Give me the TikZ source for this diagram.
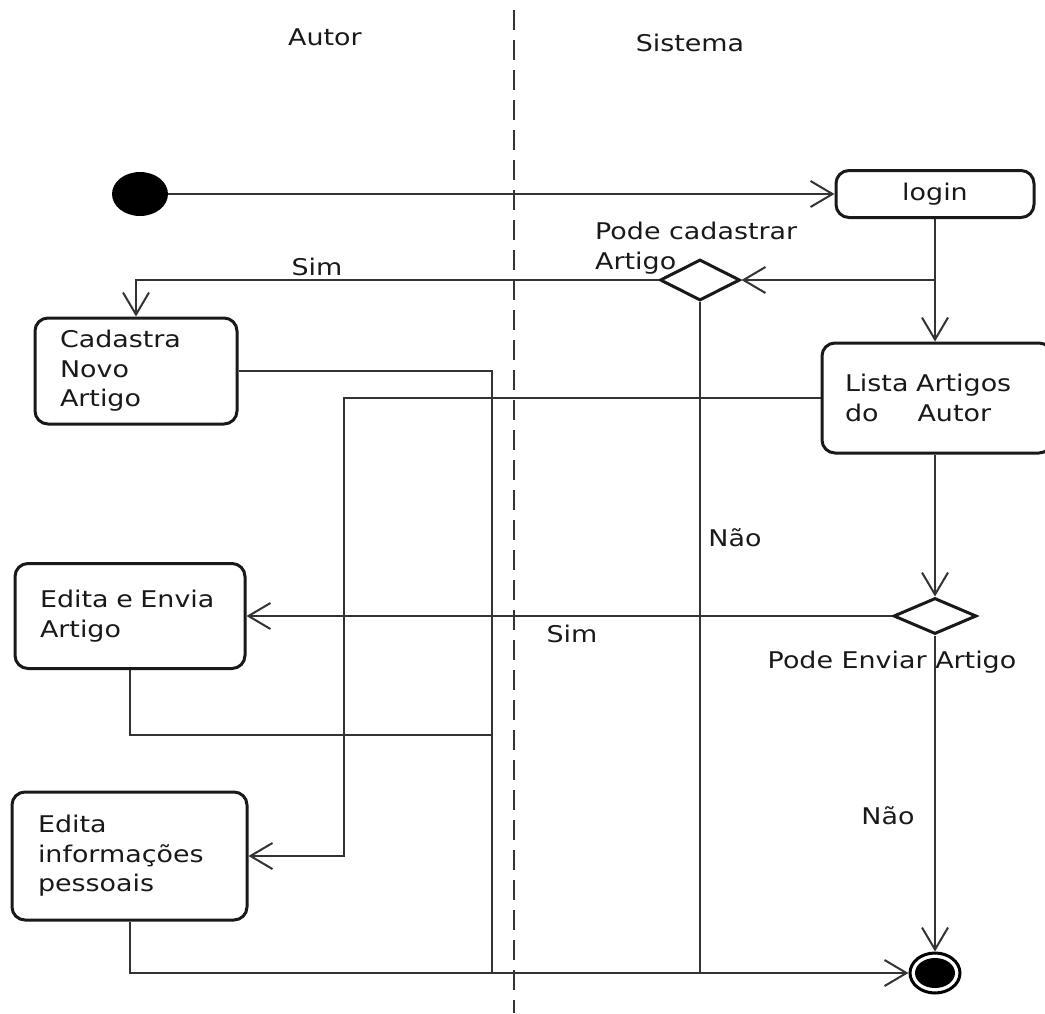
\documentclass[tikz,border=0pt]{standalone}
\usepackage{fontspec}
\setmainfont{DejaVu Sans}[FakeStretch=1.17]
\usetikzlibrary{shapes.geometric,arrows.meta}

\begin{document}
\begin{tikzpicture}[x=1pt,y=-1pt,
  every node/.style={font=\fontsize{23}{29.5}\selectfont, text=black!90},
  act/.style={draw=black!90, line width=3pt, rounded corners=13pt, align=left,
              inner ysep=0pt, fill=white},
  conn/.style={line width=2pt, draw=black!80},
  arr/.style={conn, -{Straight Barb[length=22pt,width=26pt,line width=2pt]}},
  dec/.style={diamond, draw=black!90, line width=3pt, inner sep=0pt, fill=white},
  lbl/.style={inner sep=0pt}]

\useasboundingbox (0,0) rectangle (1045,1013);
\clip (0,0) rectangle (1045,1013);

% swimlane separator and lane titles
\draw[line width=2.5pt, draw=black!80, dash pattern=on 20pt off 10pt] (514,10) -- (514,1013);
\node[lbl] (autor) at (325,37) {Autor};
\node[lbl] (sistema) at (690,43) {Sistema};

% initial and final states
\node[ellipse, fill=black, minimum width=56pt, minimum height=44pt, inner sep=0pt] (start) at (140,194) {};
\node[ellipse, draw=black, line width=3pt, minimum width=50pt, minimum height=40pt, inner sep=0pt, fill=white] (final) at (935,973) {};
\node[ellipse, fill=black, minimum width=40pt, minimum height=30pt, inner sep=0pt] (finalin) at (final) {};

% activities
\node[act, align=center, minimum width=198pt, minimum height=47pt] (login) at (935,194) {login};
\node[act, text width=152pt, inner xsep=25pt, minimum height=106pt] (cadastra) at (136,371) {Cadastra\\Novo\\Artigo};
\node[act, text width=184pt, inner xsep=23pt, minimum height=110pt] (lista) at (937,398) {Lista Artigos\\do\hspace{39pt}Autor};
\node[act, text width=180pt, inner xsep=25pt, minimum height=105pt] (edenv) at (130,616) {Edita e Envia\\Artigo};
\node[act, text width=183pt, inner xsep=26pt, minimum height=128pt] (edinfo) at (129.5,856) {Edita\\informações\\pessoais};

% decisions
\node[dec, minimum width=80pt, minimum height=41pt] (d1) at (700,280) {};
\node[dec, minimum width=83pt, minimum height=36pt] (d2) at (935,616) {};

% merge points on the lines towards the final state
\coordinate (m1) at (492,973);
\coordinate (m2) at (492,735);
\coordinate (k) at (344,856);

% flows
\draw[arr] (start) -- (login);
\draw[arr] (login.south) -- (login.south |- lista.north);
\draw[arr] (login.south |- d1.east) -- (d1.east);
\draw[arr] (d1.west) -| (cadastra.north);
\draw[conn] (d1.south) -- (d1.south |- final.west);
\draw[conn] (cadastra.east) -| (m1);
\draw[conn] (edenv.south) |- (m2);
\draw[arr] (lista.west) -| (k |- edinfo.east) -- (edinfo.east);
\draw[arr] (d2.north |- lista.south) -- (d2.north);
\draw[arr] (d2.west) -- (edenv.east);
\draw[arr] (d2.south) -- (final.north);
\draw[arr] (edinfo.south) |- (final.west);

% guard and decision labels
\node[lbl] (simA) at (317,267) {Sim};
\node[lbl, align=left, anchor=west] (pc) at (595,248) {Pode cadastrar\\Artigo};
\node[lbl] (naoA) at (735,538) {Não};
\node[lbl] (simB) at (572,634) {Sim};
\node[lbl] (pe) at (892,662) {Pode Enviar Artigo};
\node[lbl] (naoB) at (888,816) {Não};
\end{tikzpicture}
\end{document}
